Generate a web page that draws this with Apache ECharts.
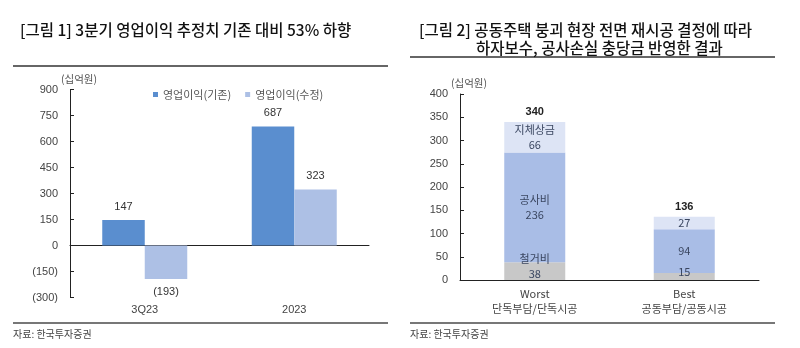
<!DOCTYPE html>
<html><head><meta charset="utf-8">
<script src="https://cdn.jsdelivr.net/npm/echarts@6/dist/echarts.min.js"></script>
<style>html,body{margin:0;padding:0;background:#fff}#c{width:800px;height:348px}</style>
</head><body><div id="c"></div>
<script>
// ---- data: chart 1 ----
const cats1 = ['3Q23', '2023'];
const seriesNames1 = ['영업이익(기존)', '영업이익(수정)'];
const opBefore = [147, 687];
const opAfter = [-193, 323];
// ---- data: chart 2 ----
const cats2 = ['Worst\n단독부담/단독시공', 'Best\n공동부담/공동시공'];
const segNames = ['철거비', '공사비', '지체상금'];
const demolition = [38, 15];
const construction = [236, 94];
const delayPenalty = [66, 27];
const totals = [340, 136];

const FONT = '"Liberation Sans", "Noto Sans CJK KR", sans-serif';
const KFONT = '"Noto Sans CJK KR", "Liberation Sans", sans-serif';
const fmtNeg = v => v < 0 ? '(' + Math.abs(v) + ')' : String(v);

const chart = echarts.init(document.getElementById('c'), null, {renderer: 'canvas'});

const segColors = ['#c8c8c8', '#a9bde6', '#dde4f5'];
const segData = [demolition, construction, delayPenalty];

const stackSeries = segData.map((arr, i) => ({
  type: 'bar', name: segNames[i], xAxisIndex: 1, yAxisIndex: 1, stack: 'total',
  barWidth: 61, data: arr,
  itemStyle: {color: segColors[i]},
  label: {
    show: true, position: 'inside', color: '#3a4660', fontSize: 11, fontFamily: KFONT, lineHeight: 15,
    offset: i === 0 ? [0, -5] : [0, 0],
    formatter: p => p.dataIndex === 0 ? segNames[i] + '\n' + p.value : String(p.value)
  }
}));

const TITLE_STYLE = {fontSize: 15.5, fontWeight: 500, color: '#111', fontFamily: KFONT};
const NAME_STYLE = {fontSize: 10.5, color: '#555', fontFamily: KFONT, align: 'left', padding: [0, 0, 0, -9]};

const option = {
  animation: false,
  textStyle: {fontFamily: FONT},
  title: [
    {text: '[그림 1] 3분기 영업이익 추정치 기존 대비 53% 하향', left: 15, top: 17, textStyle: TITLE_STYLE},
    {text: '[그림 2] 공동주택 붕괴 현장 전면 재시공 결정에 따라', left: 414, top: 17, textStyle: TITLE_STYLE},
    {text: '하자보수, 공사손실 충당금 반영한 결과', left: 471, top: 35, textStyle: TITLE_STYLE}
  ],
  legend: {
    left: 148, top: 84, itemWidth: 5, itemHeight: 5, itemGap: 14, icon: 'rect',
    data: seriesNames1,
    textStyle: {fontSize: 11, color: '#555', fontFamily: KFONT}
  },
  grid: [
    {left: 70, right: 431, top: 89.5, bottom: 50.5, containLabel: false, outerBoundsMode: 'none'},
    {left: 460, right: 41, top: 94, bottom: 68, containLabel: false, outerBoundsMode: 'none'}
  ],
  xAxis: [
    {type: 'category', gridIndex: 0, data: cats1,
      axisLine: {onZero: true, lineStyle: {color: '#222', width: 1}},
      axisTick: {inside: true, length: 4, lineStyle: {color: '#222'}},
      axisLabel: {show: false}},
    {type: 'category', gridIndex: 1, data: cats2,
      axisLine: {lineStyle: {color: '#222', width: 1}},
      axisTick: {inside: true, length: 4, lineStyle: {color: '#222'}},
      axisLabel: {margin: 6, fontSize: 11, color: '#444', lineHeight: 15, fontFamily: KFONT}},
    {type: 'category', gridIndex: 0, data: cats1, position: 'bottom',
      axisLine: {show: false, onZero: false}, axisTick: {show: false},
      axisLabel: {margin: 7, fontSize: 11, color: '#444'}}
  ],
  yAxis: [
    {type: 'value', gridIndex: 0, min: -300, max: 900, interval: 150,
      name: '(십억원)', nameGap: 5, nameTextStyle: NAME_STYLE,
      axisLine: {show: true, lineStyle: {color: '#222', width: 1}},
      axisTick: {show: true, inside: true, length: 4, lineStyle: {color: '#222'}},
      splitLine: {show: false},
      axisLabel: {fontSize: 11, color: '#444', margin: 12, formatter: fmtNeg}},
    {type: 'value', gridIndex: 1, min: 0, max: 400, interval: 50,
      name: '(십억원)', nameGap: 5, nameTextStyle: NAME_STYLE,
      axisLine: {show: true, lineStyle: {color: '#222', width: 1}},
      axisTick: {show: true, inside: true, length: 4, lineStyle: {color: '#222'}},
      splitLine: {show: false},
      axisLabel: {fontSize: 11, color: '#444', margin: 12}}
  ],
  series: [
    {type: 'bar', name: seriesNames1[0], xAxisIndex: 0, yAxisIndex: 0, data: opBefore,
      barWidth: 42.5, barGap: '0%', itemStyle: {color: '#5a8ecf'},
      label: {show: true, position: 'top', distance: 8, fontSize: 11, color: '#333', formatter: p => fmtNeg(p.value)}},
    {type: 'bar', name: seriesNames1[1], xAxisIndex: 0, yAxisIndex: 0,
      data: opAfter.map(v => v < 0 ? {value: v, label: {position: 'bottom'}} : v),
      barWidth: 42.5, barGap: '0%', itemStyle: {color: '#adc0e5'},
      label: {show: true, position: 'top', distance: 8, fontSize: 11, color: '#333', formatter: p => fmtNeg(p.value)}},
    ...stackSeries,
    {type: 'bar', name: 'total', xAxisIndex: 1, yAxisIndex: 1, data: totals, barWidth: 61, barGap: '-100%',
      itemStyle: {color: 'rgba(0,0,0,0)'}, z: 0,
      label: {show: true, position: 'top', distance: 4, fontSize: 11, fontWeight: 'bold', color: '#222'}}
  ],
  graphic: [
    {type: 'line', shape: {x1: 13, y1: 66, x2: 388, y2: 66}, style: {stroke: '#333', lineWidth: 1.5}},
    {type: 'line', shape: {x1: 13, y1: 323, x2: 388, y2: 323}, style: {stroke: '#777', lineWidth: 2}},
    {type: 'line', shape: {x1: 410, y1: 57, x2: 775, y2: 57}, style: {stroke: '#333', lineWidth: 1.5}},
    {type: 'line', shape: {x1: 410, y1: 323, x2: 775, y2: 323}, style: {stroke: '#777', lineWidth: 2}},
    {type: 'text', left: 13, top: 329, style: {text: '자료: 한국투자증권', fontSize: 10, fill: '#444', fontFamily: KFONT}},
    {type: 'text', left: 410, top: 329, style: {text: '자료: 한국투자증권', fontSize: 10, fill: '#444', fontFamily: KFONT}}
  ]
};
chart.setOption(option);
</script></body></html>
